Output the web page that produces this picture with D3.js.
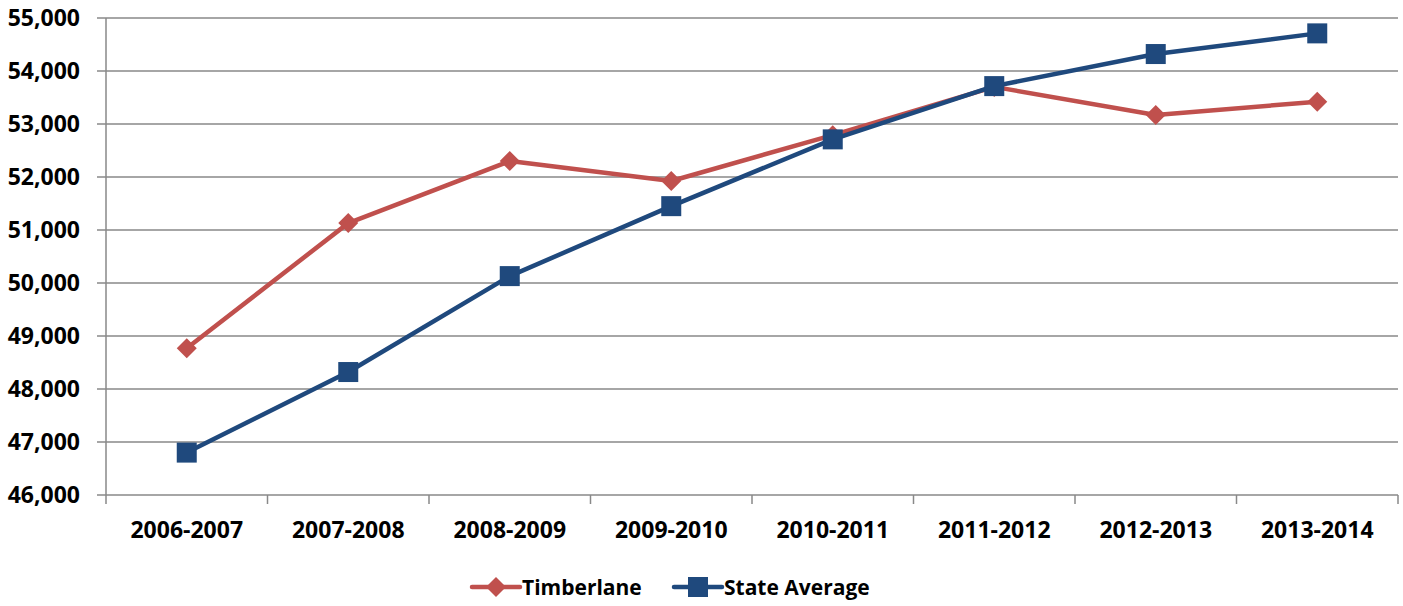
<!DOCTYPE html>
<html><head><meta charset="utf-8">
<script src="https://cdn.jsdelivr.net/npm/d3@7"></script>
<style>body{margin:0;background:#fff}svg{display:block}</style>
</head><body>
<svg id="c" width="1403" height="606"></svg>
<script>
const categories = ["2006-2007","2007-2008","2008-2009","2009-2010","2010-2011","2011-2012","2012-2013","2013-2014"];
const timberlane = [48770, 51130, 52300, 51925, 52790, 53700, 53170, 53420];
const stateAverage = [46800, 48320, 50130, 51450, 52710, 53715, 54320, 54710];
const yTicks = [46000,47000,48000,49000,50000,51000,52000,53000,54000,55000];
const seriesNames = ["Timberlane","State Average"];
const colors = ["#C0504D","#1F497D"];

const svg = d3.select("#c");
const font = "'Open Sans', 'Noto Sans', sans-serif";
const L = 106, R = 1398, T = 18, B = 495;
const x = d3.scaleBand().domain(categories).range([L, R]);
const y = d3.scaleLinear().domain([46000, 55000]).range([B, T]);

// gridlines
svg.append("g").selectAll("line").data(yTicks).join("line")
  .attr("x1", L - 9).attr("x2", R).attr("y1", d => y(d)).attr("y2", d => y(d))
  .attr("stroke", "#898989").attr("stroke-width", 1.5);

// y axis line
svg.append("line").attr("x1", L).attr("x2", L).attr("y1", T).attr("y2", B)
  .attr("stroke", "#898989").attr("stroke-width", 1.5);
// x tick marks at band boundaries
const bounds = categories.map(c => x(c)).concat([R]);
svg.append("g").selectAll("line").data(bounds).join("line")
  .attr("x1", d => d).attr("x2", d => d).attr("y1", B).attr("y2", B + 9)
  .attr("stroke", "#898989").attr("stroke-width", 1.5);

// y labels
const fmt = d3.format(",");
svg.append("g").selectAll("text").data(yTicks).join("text")
  .attr("x", 80).attr("y", d => y(d)).attr("dy", "0.36em")
  .attr("text-anchor", "end").attr("font-family", font).attr("font-weight", "bold")
  .attr("font-size", 23).attr("fill", "#000").text(d => fmt(d));

// x labels
svg.append("g").selectAll("text").data(categories).join("text")
  .attr("x", d => x(d) + x.bandwidth() / 2).attr("y", 538)
  .attr("text-anchor", "middle").attr("font-family", font).attr("font-weight", "bold")
  .attr("font-size", 23).attr("fill", "#000").text(d => d);

const cx = c => x(c) + x.bandwidth() / 2;
const line = d3.line().x((d, i) => cx(categories[i])).y(d => y(d));

function diamond(g, px, py, s, col) {
  g.append("path").attr("d", `M${px},${py - s}L${px + s},${py}L${px},${py + s}L${px - s},${py}Z`).attr("fill", col);
}
function square(g, px, py, s, col) {
  g.append("rect").attr("x", px - s).attr("y", py - s).attr("width", 2 * s).attr("height", 2 * s).attr("fill", col);
}

// Timberlane
const gT = svg.append("g");
gT.append("path").datum(timberlane).attr("d", line).attr("fill", "none")
  .attr("stroke", colors[0]).attr("stroke-width", 4.5).attr("stroke-linejoin", "round");
timberlane.forEach((v, i) => diamond(gT, cx(categories[i]), y(v), 10, colors[0]));

// State average
const gS = svg.append("g");
gS.append("path").datum(stateAverage).attr("d", line).attr("fill", "none")
  .attr("stroke", colors[1]).attr("stroke-width", 4.5).attr("stroke-linejoin", "round");
stateAverage.forEach((v, i) => square(gS, cx(categories[i]), y(v), 10, colors[1]));

// legend
const leg = svg.append("g");
const ly = 587;
const legItems = [{x0: 472, tx: 522}, {x0: 674, tx: 724}];
legItems.forEach((it, i) => {
  leg.append("line").attr("x1", it.x0).attr("x2", it.x0 + 48).attr("y1", ly).attr("y2", ly)
    .attr("stroke", colors[i]).attr("stroke-width", 4.5).attr("stroke-linecap", "round");
  if (i === 0) diamond(leg, it.x0 + 24, ly, 10, colors[0]);
  else square(leg, it.x0 + 24, ly, 10, colors[1]);
  leg.append("text").attr("x", it.tx).attr("y", ly).attr("dy", "0.36em")
    .attr("font-family", font).attr("font-weight", "bold").attr("font-size", 21)
    .attr("fill", "#000").text(seriesNames[i]);
});
</script>
</body></html>
